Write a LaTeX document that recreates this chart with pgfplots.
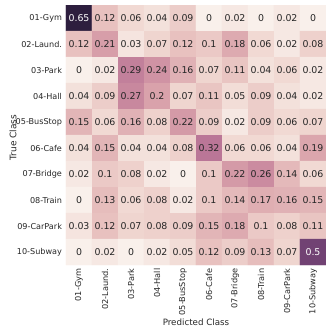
\documentclass[border=0pt]{standalone}
\usepackage{fontspec}
\setmainfont{DejaVu Sans}
\usepackage{pgfplots}
\usepackage{pgfplotstable}
\pgfplotsset{compat=1.18}
\pgfplotstableread{
x y v
0 0 0.65
1 0 0.12
2 0 0.06
3 0 0.04
4 0 0.09
5 0 0
6 0 0.02
7 0 0
8 0 0.02
9 0 0
0 1 0.12
1 1 0.21
2 1 0.03
3 1 0.07
4 1 0.12
5 1 0.1
6 1 0.18
7 1 0.06
8 1 0.02
9 1 0.08
0 2 0
1 2 0.02
2 2 0.29
3 2 0.24
4 2 0.16
5 2 0.07
6 2 0.11
7 2 0.04
8 2 0.06
9 2 0.02
0 3 0.04
1 3 0.09
2 3 0.27
3 3 0.2
4 3 0.07
5 3 0.11
6 3 0.05
7 3 0.09
8 3 0.04
9 3 0.02
0 4 0.15
1 4 0.06
2 4 0.16
3 4 0.08
4 4 0.22
5 4 0.09
6 4 0.02
7 4 0.09
8 4 0.06
9 4 0.07
0 5 0.04
1 5 0.15
2 5 0.04
3 5 0.04
4 5 0.08
5 5 0.32
6 5 0.06
7 5 0.06
8 5 0.04
9 5 0.19
0 6 0.02
1 6 0.1
2 6 0.08
3 6 0.02
4 6 0
5 6 0.1
6 6 0.22
7 6 0.26
8 6 0.14
9 6 0.06
0 7 0
1 7 0.13
2 7 0.06
3 7 0.08
4 7 0.02
5 7 0.1
6 7 0.14
7 7 0.17
8 7 0.16
9 7 0.15
0 8 0.03
1 8 0.12
2 8 0.07
3 8 0.08
4 8 0.09
5 8 0.15
6 8 0.18
7 8 0.1
8 8 0.08
9 8 0.11
0 9 0
1 9 0.02
2 9 0
3 9 0.02
4 9 0.05
5 9 0.12
6 9 0.09
7 9 0.13
8 9 0.07
9 9 0.5
}\cmdata
\definecolor{txtdark}{RGB}{38,38,38}
\begin{document}
\begin{tikzpicture}
\path[use as bounding box] (-66pt,-67pt) rectangle (266pt,265pt);
\begin{axis}[
  at={(0,0)}, anchor=south west,
  width=260pt, height=260pt, scale only axis,
  xmin=-0.5, xmax=9.5, ymin=-0.5, ymax=9.5,
  y dir=reverse,
  axis line style={draw=none},
  major tick length=0pt,
  xtick={0,...,9}, ytick={0,...,9},
  xticklabels={01-Gym,02-Laund.,03-Park,04-Hall,05-BusStop,06-Cafe,07-Bridge,08-Train,09-CarPark,10-Subway},
  yticklabels={01-Gym,02-Laund.,03-Park,04-Hall,05-BusStop,06-Cafe,07-Bridge,08-Train,09-CarPark,10-Subway},
  xticklabel style={rotate=90, anchor=east, font=\fontsize{8.2}{10}\selectfont, text=txtdark},
  yticklabel style={anchor=east, xshift=-0.5pt, font=\fontsize{8.1}{10}\selectfont, text=txtdark},
  xlabel={Predicted Class}, ylabel={True Class},
  xlabel style={at={(axis description cs:0.5,-0.219)}, anchor=center, font=\fontsize{8.7}{10}\selectfont, text=txtdark},
  ylabel style={at={(axis description cs:-0.204,0.49)}, anchor=center, font=\fontsize{9}{10}\selectfont, text=txtdark},
  colormap={ch}{rgb255(0cm)=(249,240,235); rgb255(1cm)=(240,215,209); rgb255(2cm)=(230,189,188); rgb255(3cm)=(218,164,172); rgb255(4cm)=(203,139,160); rgb255(5cm)=(184,116,150); rgb255(6cm)=(160,96,139); rgb255(7cm)=(133,77,126); rgb255(8cm)=(104,61,110); rgb255(9cm)=(74,45,89); rgb255(10cm)=(45,30,62)},
  point meta min=0, point meta max=0.65,
]
\addplot[matrix plot*, mesh/cols=10, point meta=explicit] table[x=x, y=y, meta=v] {\cmdata};
\addplot[draw=none, mark=none, nodes near coords, nodes near coords align=center,
  point meta=explicit symbolic,
  every node near coord/.append style={font=\fontsize{9.4}{11}\selectfont, text=txtdark, anchor=center},
  restrict expr to domain={\thisrow{v}}{-1:0.4}] table[x=x, y=y, meta=v] {\cmdata};
\addplot[draw=none, mark=none, nodes near coords, nodes near coords align=center,
  point meta=explicit symbolic,
  every node near coord/.append style={font=\fontsize{9.4}{11}\selectfont, text=white, anchor=center},
  restrict expr to domain={\thisrow{v}}{0.4:1}] table[x=x, y=y, meta=v] {\cmdata};
\end{axis}
\end{tikzpicture}
\end{document}
